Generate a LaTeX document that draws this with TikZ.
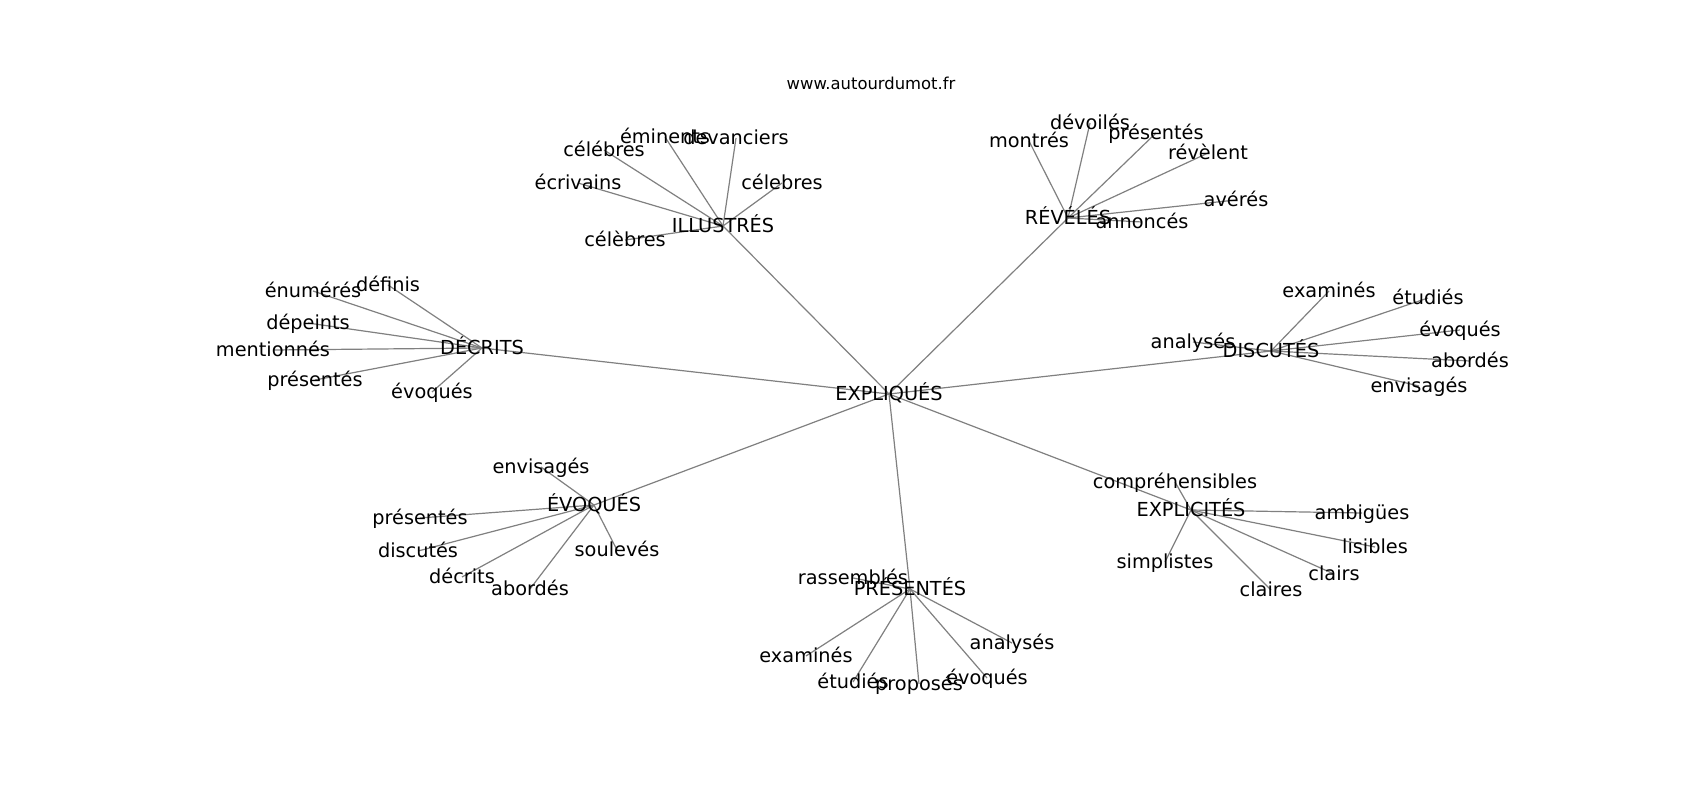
\documentclass[tikz,border=0pt]{standalone}
\usepackage{fontspec}
\setmainfont{DejaVu Sans}
\usetikzlibrary{backgrounds}
\begin{document}
\begin{tikzpicture}[x=1pt,y=-1pt,
  lbl/.style={inner sep=0pt,text height=13pt,text depth=0pt,anchor=center,font=\fontsize{19.3}{23}\selectfont,text=black},
  ttl/.style={inner sep=0pt,text height=7.8pt,text depth=0pt,anchor=center,font=\fontsize{16.4}{20}\selectfont,text=black},
  edge/.style={draw=gray,line width=1.2pt}]
\useasboundingbox (0,0) rectangle (1700,800);
\node[ttl] (title) at (871,86) {www.autourdumot.fr};
% center
\node[lbl] (C) at (889,394) {EXPLIQUÉS};
% hubs
\node[lbl] (H1) at (723,226) {ILLUSTRÉS};
\node[lbl] (H2) at (1068,218) {RÉVÉLÉS};
\node[lbl] (H3) at (482,348) {DÉCRITS};
\node[lbl] (H4) at (1271,351) {DISCUTÉS};
\node[lbl] (H5) at (594,505) {ÉVOQUÉS};
\node[lbl] (H6) at (910,589) {PRÉSENTÉS};
\node[lbl] (H7) at (1191,510) {EXPLICITÉS};
% ILLUSTRÉS leaves
\node[lbl] (a1) at (665,137) {éminents};
\node[lbl] (a2) at (736,138) {devanciers};
\node[lbl] (a3) at (604,150) {célébres};
\node[lbl] (a4) at (578,183) {écrivains};
\node[lbl] (a5) at (625,240) {célèbres};
\node[lbl] (a6) at (782,183) {célebres};
% RÉVÉLÉS leaves
\node[lbl] (b1) at (1029,141) {montrés};
\node[lbl] (b2) at (1090,123) {dévoilés};
\node[lbl] (b3) at (1156,133) {présentés};
\node[lbl] (b4) at (1208,153) {révèlent};
\node[lbl] (b5) at (1236,200) {avérés};
\node[lbl] (b6) at (1142,222) {annoncés};
% DÉCRITS leaves
\node[lbl] (c1) at (388,285) {définis};
\node[lbl] (c2) at (313,291) {énumérés};
\node[lbl] (c3) at (308,323) {dépeints};
\node[lbl] (c4) at (273,350) {mentionnés};
\node[lbl] (c5) at (315,380) {présentés};
\node[lbl] (c6) at (432,392) {évoqués};
% DISCUTÉS leaves
\node[lbl] (d1) at (1329,291) {examinés};
\node[lbl] (d2) at (1193,342) {analysés};
\node[lbl] (d3) at (1428,298) {étudiés};
\node[lbl] (d4) at (1460,330) {évoqués};
\node[lbl] (d5) at (1470,361) {abordés};
\node[lbl] (d6) at (1419,386) {envisagés};
% ÉVOQUÉS leaves
\node[lbl] (e1) at (541,467) {envisagés};
\node[lbl] (e2) at (420,518) {présentés};
\node[lbl] (e3) at (418,551) {discutés};
\node[lbl] (e4) at (462,577) {décrits};
\node[lbl] (e5) at (530,589) {abordés};
\node[lbl] (e6) at (617,550) {soulevés};
% PRÉSENTÉS leaves
\node[lbl] (f1) at (853,578) {rassemblés};
\node[lbl] (f2) at (806,656) {examinés};
\node[lbl] (f3) at (853,682) {étudiés};
\node[lbl] (f4) at (919,684) {proposés};
\node[lbl] (f5) at (987,678) {évoqués};
\node[lbl] (f6) at (1012,643) {analysés};
% EXPLICITÉS leaves
\node[lbl] (g1) at (1175,482) {compréhensibles};
\node[lbl] (g2) at (1165,562) {simplistes};
\node[lbl] (g3) at (1271,590) {claires};
\node[lbl] (g4) at (1362,513) {ambigües};
\node[lbl] (g5) at (1375,547) {lisibles};
\node[lbl] (g6) at (1334,574) {clairs};
\begin{pgfonlayer}{background}
\fill[white] (0,0) rectangle (1700,800);
\foreach \h in {H1,H2,H3,H4,H5,H6,H7} \draw[edge] (C.center) -- (\h.center);
\foreach \l in {a1,a2,a3,a4,a5,a6} \draw[edge] (H1.center) -- (\l.center);
\foreach \l in {b1,b2,b3,b4,b5,b6} \draw[edge] (H2.center) -- (\l.center);
\foreach \l in {c1,c2,c3,c4,c5,c6} \draw[edge] (H3.center) -- (\l.center);
\foreach \l in {d1,d2,d3,d4,d5,d6} \draw[edge] (H4.center) -- (\l.center);
\foreach \l in {e1,e2,e3,e4,e5,e6} \draw[edge] (H5.center) -- (\l.center);
\foreach \l in {f1,f2,f3,f4,f5,f6} \draw[edge] (H6.center) -- (\l.center);
\foreach \l in {g1,g2,g3,g4,g5,g6} \draw[edge] (H7.center) -- (\l.center);
\end{pgfonlayer}
\end{tikzpicture}
\end{document}
